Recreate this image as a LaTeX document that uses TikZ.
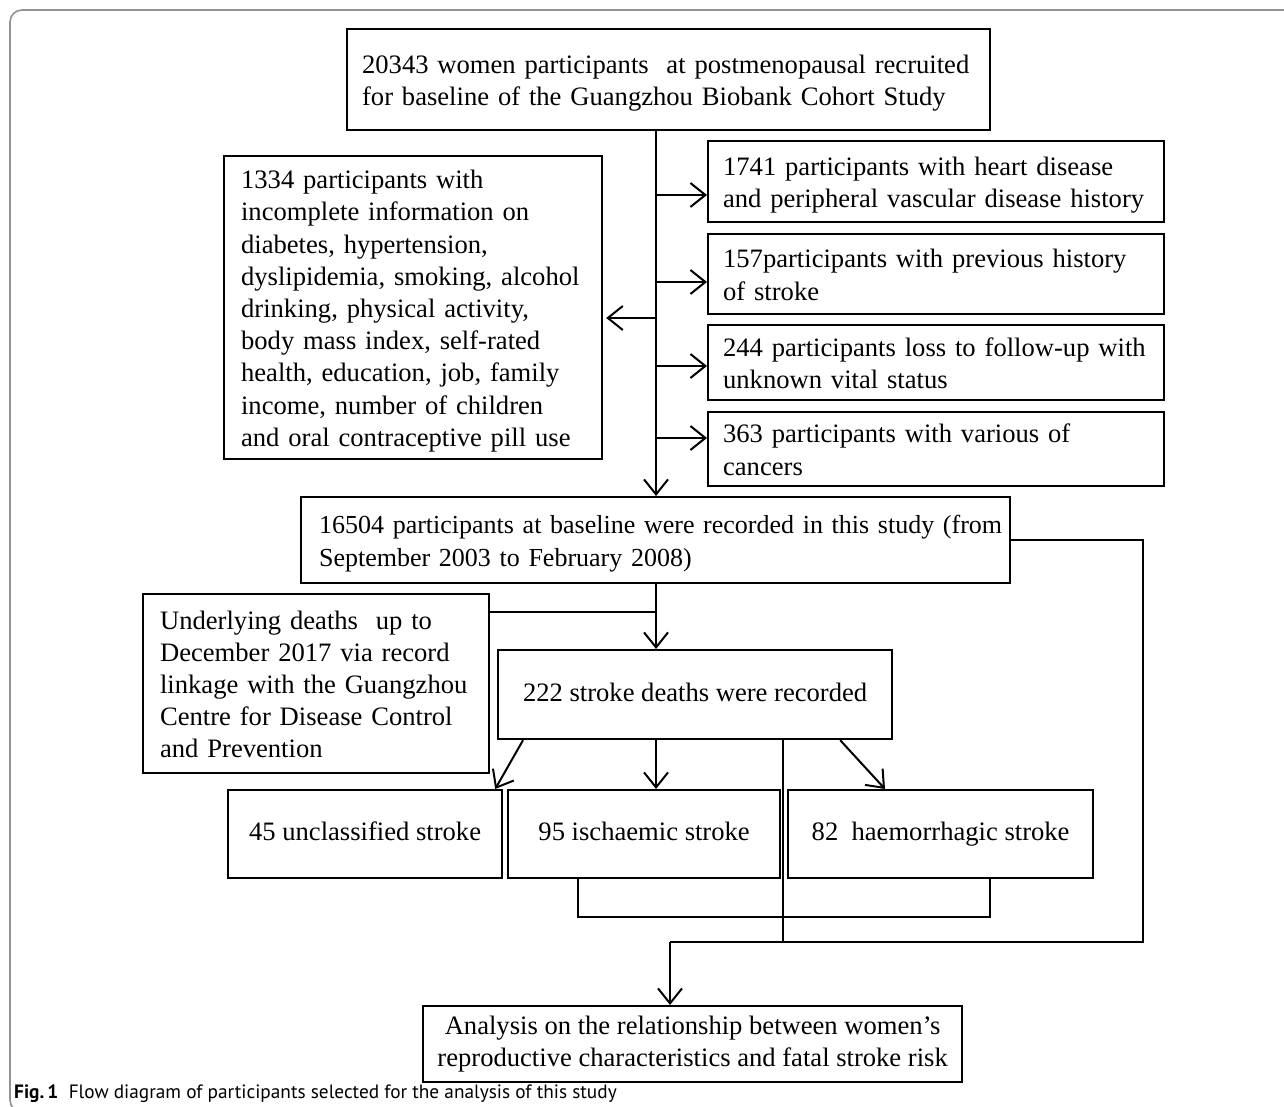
\documentclass[tikz,border=0pt]{standalone}
\usepackage{fontspec}
\setmainfont{Liberation Serif}
\setsansfont{PT Sans}
\usetikzlibrary{arrows.meta,calc}
\newcommand\fsz{\fontsize{26.6}{32.2}\selectfont}
\newcommand\boxlines[1]{\raisebox{-3.5pt}[\height][\depth]{\begin{tabular}{@{}l@{}}#1\end{tabular}}}
\tikzset{
  fbox/.style={draw, line width=2.2pt, anchor=north west, inner ysep=0pt, font=\fsz},
  lbox/.style={fbox, align=left},
  cbox/.style={fbox, align=center, inner xsep=0pt},
  onel/.style={text height=19pt, text depth=6pt},
  conn/.style={line width=2pt},
  arr/.style={conn, -{Straight Barb[length=15pt,width=24pt]}},
  framestyle/.style={draw=gray!85, line width=1.6pt, rounded corners=12pt},
}
\begin{document}
\begin{tikzpicture}[x=1pt,y=-1pt]
\useasboundingbox (0,0) rectangle (1284,1107);
\clip (0,0) rectangle (1284,1107);
\fill[white] (0,0) rectangle (1284,1107);
\draw[framestyle] (1300,10) -- (10,10) -- (10,1112) -- (1300,1112);

\node[lbox, text width=613pt, inner xsep=15pt, minimum height=101pt] (top) at (346,28)
  {\boxlines{20343 women participants\ \ at postmenopausal recruited\\for baseline of the Guangzhou Biobank Cohort Study}};
\node[lbox, text width=344pt, inner xsep=17pt, minimum height=303pt] (excl) at (223,155)
  {\boxlines{1334 participants with\\incomplete information on\\diabetes, hypertension,\\dyslipidemia, smoking, alcohol\\drinking, physical activity,\\body mass index, self-rated\\health, education, job, family\\income, number of children\\and oral contraceptive pill use}};
\node[lbox, text width=426pt, inner xsep=15pt, minimum height=81pt] (r1) at (707,140)
  {\boxlines{1741 participants with heart disease\\and peripheral vascular disease history}};
\node[lbox, text width=426pt, inner xsep=15pt, minimum height=80pt] (r2) at (707,233)
  {\boxlines{157participants with previous history\\of stroke}};
\node[lbox, text width=426pt, inner xsep=15pt, minimum height=75pt] (r3) at (707,324)
  {\boxlines{244 participants loss to follow-up with\\unknown vital status}};
\node[lbox, text width=426pt, inner xsep=15pt, minimum height=74pt] (r4) at (707,411)
  {\boxlines{363 participants with various of\\cancers}};
\node[lbox, text width=673pt, inner xsep=18pt, minimum height=86pt, font=\fontsize{26}{32.2}\selectfont] (base) at (300,496)
  {\boxlines{16504 participants at baseline were recorded in this study (from\\September 2003 to February 2008)}};
\node[lbox, text width=312pt, inner xsep=17pt, minimum height=179pt] (und) at (142,593)
  {\boxlines{Underlying deaths\ \ up to\\December 2017 via record\\linkage with the Guangzhou\\Centre for Disease Control\\and Prevention}};
\node[cbox, onel, minimum width=394pt, minimum height=89pt] (deaths) at (497,649)
  {222 stroke deaths were recorded};
\node[cbox, onel, minimum width=274pt, minimum height=88pt] (s1) at (227,789) {45 unclassified stroke};
\node[cbox, onel, minimum width=272pt, minimum height=88pt] (s2) at (507,789) {95 ischaemic stroke};
\node[cbox, onel, minimum width=305pt, minimum height=88pt] (s3) at (787,789) {82\ \ haemorrhagic stroke};
\node[cbox, minimum width=539pt, minimum height=76pt] (ana) at (422,1005)
  {Analysis on the relationship between women’s\\reproductive characteristics and fatal stroke risk};

\node[anchor=base west, inner sep=0pt, font=\sffamily\fontsize{19.3}{23}\selectfont] (cap) at (14,1098)
  {\textbf{Fig.\,1}\ \ Flow diagram of participants selected for the analysis of this study};

% trunk
\coordinate (tx) at (656,0);
\draw[arr] (top.south -| tx) -- (base.north -| tx);
\coordinate (b1) at (656,195);
\coordinate (b2) at (656,282);
\coordinate (b3) at (656,366);
\coordinate (b4) at (656,438);
\coordinate (b5) at (656,318);
\draw[arr] (b1) -- (b1 -| r1.west);
\draw[arr] (b2) -- (b2 -| r2.west);
\draw[arr] (b3) -- (b3 -| r3.west);
\draw[arr] (b4) -- (b4 -| r4.west);
\draw[arr, shorten >=3pt] (b5) -- (b5 -| excl.east);

% base to deaths
\draw[arr] (base.south -| tx) -- (deaths.north -| tx);
\coordinate (j) at (656,612);
\draw[conn] (j -| und.east) -- (j);

% deaths to subtypes
\draw[arr] ([xshift=26pt]deaths.south west) -- ([xshift=-8pt]s1.north east);
\draw[arr] (deaths.south -| tx) -- (s2.north -| tx);
\draw[arr] ([xshift=-53pt]deaths.south east) -- ([xshift=98pt]s3.north west);

% bracket
\draw[conn] ([xshift=71pt]s2.south west) -- ++(0,38) -| ([xshift=203pt]s3.south west);

% to analysis
\coordinate (m) at (670,942);
\coordinate (dx) at (783,0);
\coordinate (fb) at (1143,942);
\draw[conn] (deaths.south -| dx) -- (m -| dx);
\draw[conn] (base.east) -| (fb) -- (m);
\draw[arr] (m) -- (m |- ana.north);
\end{tikzpicture}
\end{document}
